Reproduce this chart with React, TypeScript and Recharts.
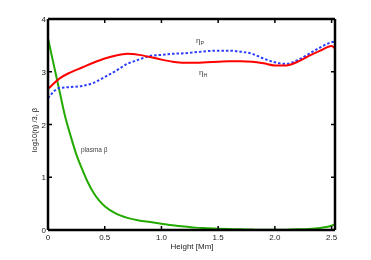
import React from "react";
import { LineChart, Line, XAxis, YAxis } from "recharts";

const heights = [0, 0.1, 0.2, 0.3, 0.4, 0.5, 0.6, 0.7, 0.8, 0.9, 1.0, 1.1, 1.2, 1.3, 1.4, 1.5, 1.6, 1.7, 1.8, 1.9, 2.0, 2.1, 2.2, 2.3, 2.4, 2.5, 2.53];
const etaH = [2.67, 2.87, 2.99, 3.08, 3.17, 3.25, 3.31, 3.34, 3.32, 3.28, 3.23, 3.19, 3.17, 3.17, 3.18, 3.19, 3.2, 3.2, 3.19, 3.16, 3.12, 3.12, 3.19, 3.3, 3.4, 3.49, 3.44];
const etaP = [2.5, 2.69, 2.71, 2.73, 2.79, 2.9, 3.02, 3.15, 3.23, 3.3, 3.32, 3.34, 3.35, 3.37, 3.39, 3.4, 3.4, 3.38, 3.34, 3.25, 3.18, 3.15, 3.22, 3.34, 3.46, 3.56, 3.57];
const betaHeights = [0, 0.05, 0.1, 0.15, 0.2, 0.25, 0.3, 0.35, 0.4, 0.45, 0.5, 0.6, 0.7, 0.8, 0.9, 1.0, 1.1, 1.2, 1.3, 1.4, 1.5, 1.6, 1.7, 1.8, 1.9, 2.0, 2.1, 2.2, 2.3, 2.4, 2.5, 2.53];
const beta = [3.63, 3.14, 2.65, 2.16, 1.78, 1.43, 1.16, 0.91, 0.71, 0.56, 0.45, 0.31, 0.23, 0.18, 0.15, 0.12, 0.09, 0.065, 0.045, 0.035, 0.025, 0.018, 0.012, 0.008, 0.005, 0.005, 0.007, 0.012, 0.02, 0.04, 0.08, 0.11];
const xTicks = [0, 0.5, 1, 1.5, 2, 2.5];
const xTickLabels = ["0", "0.5", "1.0", "1.5", "2.0", "2.5"];
const yTicks = [0, 1, 2, 3, 4];
const xTitle = "Height [Mm]";
const yTitle = "log10(η) /3, β";

const etaData = heights.map((h, i) => ({ h, etaH: etaH[i], etaP: etaP[i] }));
const betaData = betaHeights.map((h, i) => ({ h, beta: beta[i] }));

const FONT = "'Liberation Sans', Arial, sans-serif";
const TXT = "#222";

const BottomTick = (props: any) => {
  const { x, y, payload } = props;
  return (
    <g>
      <line x1={x} y1={y - 1} x2={x} y2={y - 4} stroke="#000" strokeWidth={1.5} />
      <text x={x} y={y + 10} textAnchor="middle" fontSize={8} fontFamily={FONT} fill={TXT}>
        {xTickLabels[xTicks.indexOf(payload.value)] ?? payload.value}
      </text>
    </g>
  );
};
const TopTick = (props: any) => {
  const { x, y } = props;
  return <line x1={x} y1={y + 1} x2={x} y2={y + 4} stroke="#000" strokeWidth={1.5} />;
};
const LeftTick = (props: any) => {
  const { x, y, payload } = props;
  return (
    <g>
      <line x1={x + 1} y1={y} x2={x + 4} y2={y} stroke="#000" strokeWidth={1.5} />
      <text x={x - 2} y={y + 3} textAnchor="end" fontSize={8} fontFamily={FONT} fill={TXT}>
        {payload.value}
      </text>
    </g>
  );
};
const RightTick = (props: any) => {
  const { x, y } = props;
  return <line x1={x - 1} y1={y} x2={x - 4} y2={y} stroke="#000" strokeWidth={1.5} />;
};

export default function App() {
  return (
    <div style={{ position: "absolute", left: 0, top: 0, width: 371, height: 260, background: "#fff", willChange: "transform" }}>
      <LineChart width={371} height={260} margin={{ top: 18, right: 35, bottom: 29, left: 47 }}>
        <XAxis xAxisId="b" dataKey="h" type="number" domain={[0, 2.53]} ticks={xTicks} allowDataOverflow
          axisLine={{ stroke: "#000", strokeWidth: 2.5 }} tickLine={false} tickSize={0} tickMargin={0} tick={<BottomTick />} height={1} />
        <XAxis xAxisId="t" orientation="top" dataKey="h" type="number" domain={[0, 2.53]} ticks={xTicks} allowDataOverflow
          axisLine={{ stroke: "#000", strokeWidth: 2.5 }} tickLine={false} tickSize={0} tickMargin={0} tick={<TopTick />} height={1} />
        <YAxis yAxisId="l" type="number" domain={[0, 4]} ticks={yTicks} allowDataOverflow width={1}
          axisLine={{ stroke: "#000", strokeWidth: 2.5 }} tickLine={false} tickSize={0} tickMargin={0} tick={<LeftTick />} />
        <YAxis yAxisId="r" orientation="right" type="number" domain={[0, 4]} ticks={yTicks} allowDataOverflow width={1}
          axisLine={{ stroke: "#000", strokeWidth: 2.5 }} tickLine={false} tickSize={0} tickMargin={0} tick={<RightTick />} />
        <Line xAxisId="b" yAxisId="l" data={betaData} dataKey="beta" type="monotone" stroke="#22aa00" strokeWidth={2} dot={false} isAnimationActive={false} />
        <Line xAxisId="b" yAxisId="l" data={etaData} dataKey="etaP" type="monotone" stroke="#2a3cff" strokeWidth={2} strokeDasharray="2.5 2" dot={false} isAnimationActive={false} />
        <Line xAxisId="b" yAxisId="l" data={etaData} dataKey="etaH" type="monotone" stroke="#ff0000" strokeWidth={2} dot={false} isAnimationActive={false} />
      </LineChart>
      <svg width={371} height={260} style={{ position: "absolute", left: 0, top: 0, pointerEvents: "none" }}>
        <text x={192} y={249} textAnchor="middle" fontSize={8} fontFamily={FONT} fill={TXT}>{xTitle}</text>
        <text x={37} y={130} textAnchor="middle" fontSize={7.5} fontFamily={FONT} fill={TXT} transform="rotate(-90 37 130)">{yTitle}</text>
        <text x={196} y={43} fontSize={8} fontFamily={FONT} fill="#444">η<tspan fontSize={5.5} dy={2}>P</tspan></text>
        <text x={199} y={75} fontSize={8} fontFamily={FONT} fill="#444">η<tspan fontSize={5.5} dy={2}>H</tspan></text>
        <text x={81} y={152} fontSize={6.5} fontFamily={FONT} fill="#444">plasma β</text>
      </svg>
    </div>
  );
}
